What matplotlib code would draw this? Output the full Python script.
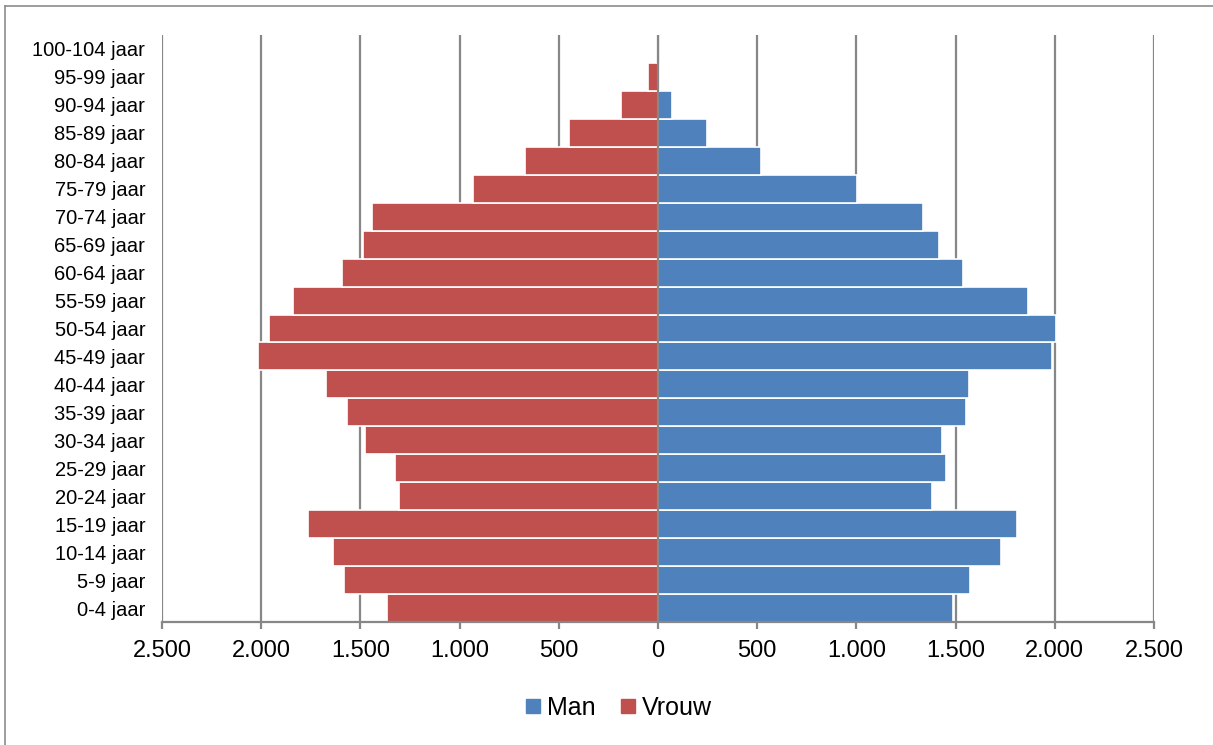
import numpy as np
import matplotlib.pyplot as plt
from matplotlib.ticker import FuncFormatter
from matplotlib.lines import Line2D

plt.rcParams['font.family'] = ['Liberation Sans', 'DejaVu Sans']

# leeftijdsgroepen, van jong naar oud
groepen = ['0-4 jaar', '5-9 jaar', '10-14 jaar', '15-19 jaar', '20-24 jaar',
           '25-29 jaar', '30-34 jaar', '35-39 jaar', '40-44 jaar', '45-49 jaar',
           '50-54 jaar', '55-59 jaar', '60-64 jaar', '65-69 jaar', '70-74 jaar',
           '75-79 jaar', '80-84 jaar', '85-89 jaar', '90-94 jaar', '95-99 jaar',
           '100-104 jaar']

man = [1485, 1573, 1730, 1811, 1381, 1453, 1433, 1552, 1567, 1987,
       2004, 1865, 1539, 1416, 1337, 1005, 519, 248, 70, 5, 1]

vrouw = [1366, 1581, 1640, 1766, 1305, 1324, 1478, 1566, 1672, 2015,
         1959, 1838, 1594, 1487, 1440, 932, 670, 449, 188, 48, 5]

xticks = [-2500, -2000, -1500, -1000, -500, 0, 500, 1000, 1500, 2000, 2500]

blauw = '#4F81BD'
rood = '#C0504D'
grijs = '#878787'

fig = plt.figure(figsize=(12.13, 7.45), dpi=100)
ax = fig.add_axes([162 / 1213, 123 / 745, 992 / 1213, 587 / 745])

y = np.arange(len(groepen))
ax.barh(y, man, height=1.0, color=blauw, edgecolor='white', linewidth=1.2, zorder=2, label='Man')
ax.barh(y, [-v for v in vrouw], height=1.0, color=rood, edgecolor='white', linewidth=1.2, zorder=2, label='Vrouw')

ax.set_xlim(-2500, 2500)
ax.set_ylim(-0.5, len(groepen) - 0.5)

# verticale rasterlijnen
for t in xticks:
    ax.axvline(t, color=grijs, linewidth=1.6, zorder=1)
ax.axvline(0, color=grijs, linewidth=1.6, zorder=3)

ax.set_xticks(xticks)
ax.xaxis.set_major_formatter(FuncFormatter(lambda v, p: f'{abs(int(v)):,}'.replace(',', '.')))
ax.tick_params(axis='x', labelsize=17, length=5, width=1.6, color=grijs, pad=8)

ax.set_yticks(y)
ax.set_yticklabels(groepen)
ax.tick_params(axis='y', labelsize=14.5, length=0, pad=12)

for s in ['top', 'right', 'left']:
    ax.spines[s].set_visible(False)
ax.spines['bottom'].set_color(grijs)
ax.spines['bottom'].set_linewidth(1.6)
ax.spines['bottom'].set_zorder(4)

handles = [Line2D([], [], marker='s', linestyle='', markersize=9.5, color=blauw),
           Line2D([], [], marker='s', linestyle='', markersize=9.5, color=rood)]
fig.legend(handles, ['Man', 'Vrouw'], loc='center', bbox_to_anchor=(616 / 1213, 37 / 745),
           ncol=2, frameon=False, fontsize=18, handletextpad=0.05, columnspacing=0.8,
           handlelength=1.0)

# rand van het grafiekgebied (links en boven)
fig.add_artist(Line2D([5 / 1213, 5 / 1213], [0, 739 / 745], color='#8c8c8c', linewidth=1.2))
fig.add_artist(Line2D([5 / 1213, 1], [739 / 745, 739 / 745], color='#8c8c8c', linewidth=1.2))

fig.savefig('out.png', dpi=100)
